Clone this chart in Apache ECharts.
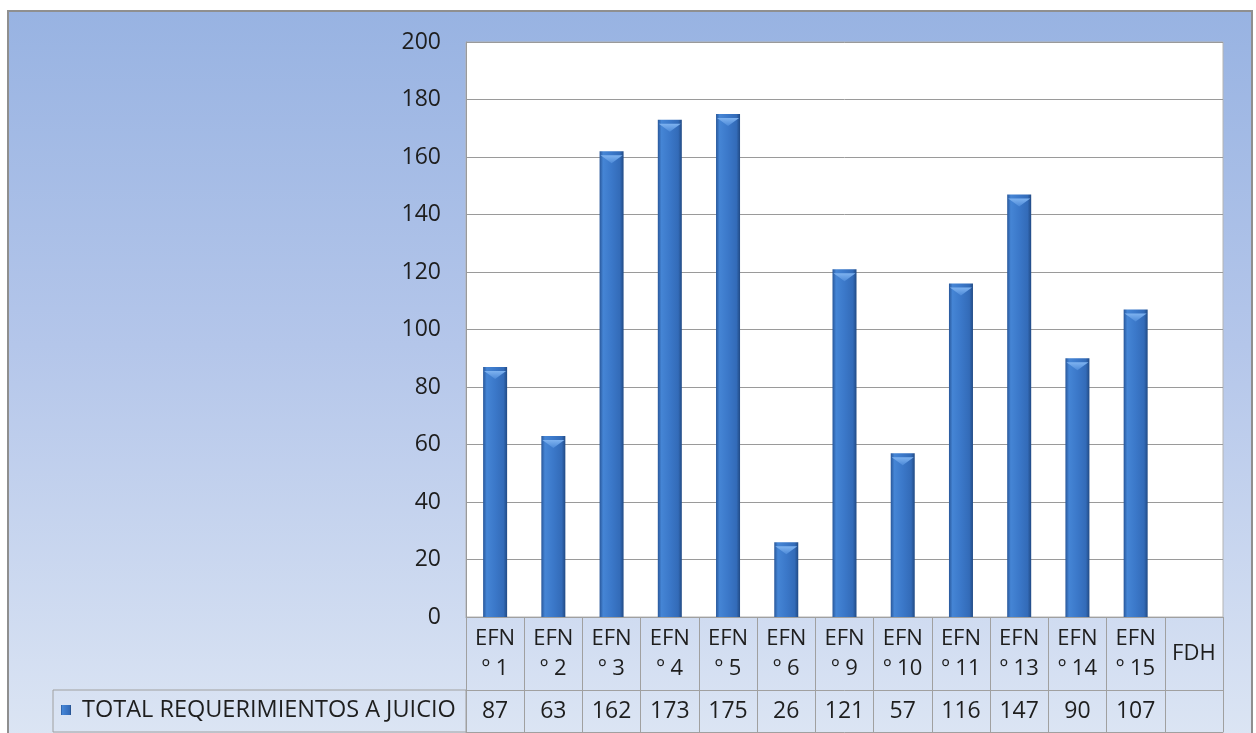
<!DOCTYPE html>
<html>
<head>
<meta charset="utf-8">
<script src="https://cdn.jsdelivr.net/npm/echarts@6/dist/echarts.min.js"></script>
<style>
  html, body { margin: 0; padding: 0; background: #fff; overflow: hidden; }
  #frame {
    position: absolute; left: 7px; top: 10px; width: 1242px; height: 740px;
    border: 2px solid #8f8f8f;
    background: linear-gradient(to bottom, #98b3e2 0%, #b4c6ea 45%, #dde6f4 100%);
  }
  #main { position: absolute; left: 0; top: 0; width: 1256px; height: 733px; }
</style>
</head>
<body>
<div id="frame"></div>
<div id="main"></div>
<script>
const categories = ["EFN\nº 1", "EFN\nº 2", "EFN\nº 3", "EFN\nº 4", "EFN\nº 5", "EFN\nº 6", "EFN\nº 9",
  "EFN\nº 10", "EFN\nº 11", "EFN\nº 13", "EFN\nº 14", "EFN\nº 15", "FDH"];
const seriesName = "TOTAL REQUERIMIENTOS A JUICIO";
const seriesValues = [87, 63, 162, 173, 175, 26, 121, 57, 116, 147, 90, 107, null];
const valueLabels = seriesValues.map((v) => (v == null ? "" : String(v)));

const font = "'Open Sans', sans-serif";
const lineColor = "#a0a0a0";
const textColor = "#1e1e1e";

const chart = echarts.init(document.getElementById("main"));
chart.setOption({
  backgroundColor: "transparent",
  textStyle: { fontFamily: font },
  grid: {
    left: 466,
    top: 42,
    right: 33,
    bottom: 116,
    show: true,
    backgroundColor: "#fff",
    borderColor: "#b4b4b4",
    borderWidth: 1,
  },
  legend: {
    left: 61,
    top: 698,
    padding: 0,
    itemWidth: 10,
    itemHeight: 10,
    icon: "rect",
    selectedMode: false,
    textStyle: { fontSize: 23.5, color: textColor, fontFamily: font, padding: [0, 0, 0, 6] },
    data: [seriesName],
  },
  xAxis: [
    {
      type: "category",
      data: categories,
      position: "bottom",
      axisLine: { show: true, lineStyle: { color: lineColor } },
      axisTick: { show: true, alignWithLabel: false, interval: 0, length: 115, lineStyle: { color: lineColor } },
      axisLabel: {
        interval: 0,
        fontSize: 22,
        lineHeight: 30,
        color: textColor,
        verticalAlign: "middle",
        margin: 37,
      },
    },
    {
      type: "category",
      data: valueLabels,
      position: "bottom",
      offset: 73,
      axisLine: { show: true, lineStyle: { color: lineColor } },
      axisTick: { show: false },
      axisLabel: {
        interval: 0,
        fontSize: 23,
        color: textColor,
        verticalAlign: "middle",
        margin: 21,
      },
    },
    {
      type: "category",
      data: valueLabels,
      position: "bottom",
      offset: 115,
      axisLine: { show: true, lineStyle: { color: lineColor } },
      axisTick: { show: false },
      axisLabel: { show: false },
    },
  ],
  yAxis: {
    type: "value",
    min: 0,
    max: 200,
    interval: 20,
    axisLine: { show: true, lineStyle: { color: "#9a9a9a" } },
    axisTick: { show: false },
    axisLabel: { fontSize: 23, color: textColor, margin: 25 },
    splitLine: { lineStyle: { color: "#9a9a9a" } },
  },
  graphic: [
    {
      type: "rect",
      shape: { x: 53, y: 690, width: 413, height: 42 },
      style: { fill: "none", stroke: lineColor, lineWidth: 1 },
      silent: true,
    },
  ],
  series: [
    {
      name: seriesName,
      type: "bar",
      xAxisIndex: 0,
      barWidth: 24,
      data: seriesValues,
      itemStyle: {
        color: new echarts.graphic.LinearGradient(0, 0, 1, 0, [
          { offset: 0, color: "#28579a" },
          { offset: 0.15, color: "#4585d5" },
          { offset: 0.5, color: "#3b78c9" },
          { offset: 0.85, color: "#336bb8" },
          { offset: 1, color: "#214a84" },
        ]),
        shadowBlur: 4,
        shadowOffsetX: 2,
        shadowOffsetY: 1,
        shadowColor: "rgba(0,0,0,0.3)",
      },
    },
    {
      // bevel on top of each bar
      name: "bevel",
      type: "pictorialBar",
      xAxisIndex: 0,
      data: seriesValues,
      symbol: "path://M0,0 L10,0 L5,4 Z",
      symbolSize: [22, 8],
      symbolPosition: "end",
      symbolOffset: [0, "50%"],
      silent: true,
      z: 3,
      itemStyle: {
        color: new echarts.graphic.LinearGradient(0, 0, 0, 1, [
          { offset: 0, color: "#7fb3f0" },
          { offset: 1, color: "#4d8ad8" },
        ]),
      },
    },
  ],
});
</script>
</body>
</html>
